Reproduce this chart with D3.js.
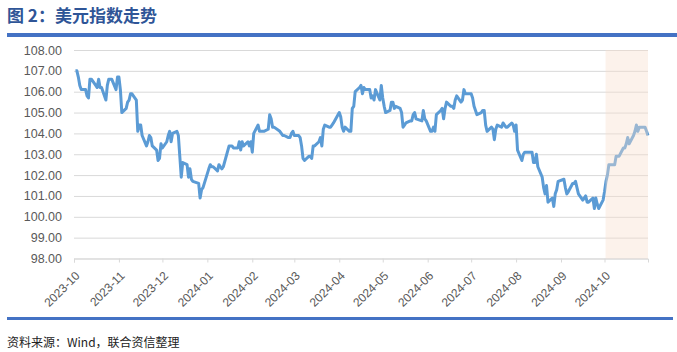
<!DOCTYPE html>
<html>
<head>
<meta charset="utf-8">
<script src="https://cdn.jsdelivr.net/npm/d3@7"></script>
<style>
  body{margin:0;background:#fff;}
  .grid line{stroke:#d9d9d9;stroke-width:1;}
  .grid path{display:none;}
  .axis text{fill:#595959;font-family:"Liberation Sans",Arial,sans-serif;}
</style>
</head>
<body>
<div id="chart"></div>
<script>
// 美元指数 daily close, 2023-10 ~ 2024-10
var dates=[
"2023-10-02","2023-10-03","2023-10-04","2023-10-05","2023-10-06","2023-10-09","2023-10-10","2023-10-11","2023-10-12","2023-10-13",
"2023-10-16","2023-10-17","2023-10-18","2023-10-19","2023-10-20","2023-10-23","2023-10-24","2023-10-25","2023-10-26","2023-10-27",
"2023-10-30","2023-10-31","2023-11-01","2023-11-02","2023-11-03","2023-11-06","2023-11-07","2023-11-08","2023-11-09","2023-11-10",
"2023-11-13","2023-11-14","2023-11-15","2023-11-16","2023-11-17","2023-11-20","2023-11-21","2023-11-22","2023-11-23","2023-11-24",
"2023-11-27","2023-11-28","2023-11-29","2023-11-30","2023-12-01","2023-12-04","2023-12-05","2023-12-06","2023-12-07","2023-12-08",
"2023-12-11","2023-12-12","2023-12-13","2023-12-14","2023-12-15","2023-12-18","2023-12-19","2023-12-20","2023-12-21","2023-12-22",
"2023-12-26","2023-12-27","2023-12-28","2023-12-29","2024-01-02","2024-01-03","2024-01-04","2024-01-05","2024-01-08","2024-01-09",
"2024-01-10","2024-01-11","2024-01-12","2024-01-16","2024-01-17","2024-01-18","2024-01-19","2024-01-22","2024-01-23","2024-01-24",
"2024-01-25","2024-01-26","2024-01-29","2024-01-30","2024-01-31","2024-02-01","2024-02-02","2024-02-05","2024-02-06","2024-02-07",
"2024-02-08","2024-02-09","2024-02-12","2024-02-13","2024-02-14","2024-02-15","2024-02-16","2024-02-20","2024-02-21","2024-02-22",
"2024-02-23","2024-02-26","2024-02-27","2024-02-28","2024-02-29","2024-03-01","2024-03-04","2024-03-05","2024-03-06","2024-03-07",
"2024-03-08","2024-03-11","2024-03-12","2024-03-13","2024-03-14","2024-03-15","2024-03-18","2024-03-19","2024-03-20","2024-03-21",
"2024-03-22","2024-03-25","2024-03-26","2024-03-27","2024-03-28","2024-04-01","2024-04-02","2024-04-03","2024-04-04","2024-04-05",
"2024-04-08","2024-04-09","2024-04-10","2024-04-11","2024-04-12","2024-04-15","2024-04-16","2024-04-17","2024-04-18","2024-04-19",
"2024-04-22","2024-04-23","2024-04-24","2024-04-25","2024-04-26","2024-04-29","2024-04-30","2024-05-01","2024-05-02","2024-05-03",
"2024-05-06","2024-05-07","2024-05-08","2024-05-09","2024-05-10","2024-05-13","2024-05-14","2024-05-15","2024-05-16","2024-05-17",
"2024-05-20","2024-05-21","2024-05-22","2024-05-23","2024-05-24","2024-05-28","2024-05-29","2024-05-30","2024-05-31","2024-06-03",
"2024-06-04","2024-06-05","2024-06-06","2024-06-07","2024-06-10","2024-06-11","2024-06-12","2024-06-13","2024-06-14","2024-06-17",
"2024-06-18","2024-06-19","2024-06-20","2024-06-21","2024-06-24","2024-06-25","2024-06-26","2024-06-27","2024-06-28","2024-07-01",
"2024-07-02","2024-07-03","2024-07-05","2024-07-08","2024-07-09","2024-07-10","2024-07-11","2024-07-12","2024-07-15","2024-07-16",
"2024-07-17","2024-07-18","2024-07-19","2024-07-22","2024-07-23","2024-07-24","2024-07-25","2024-07-26","2024-07-29","2024-07-30",
"2024-07-31","2024-08-01","2024-08-02","2024-08-05","2024-08-06","2024-08-07","2024-08-08","2024-08-09","2024-08-12","2024-08-13",
"2024-08-14","2024-08-15","2024-08-16","2024-08-19","2024-08-20","2024-08-21","2024-08-22","2024-08-23","2024-08-26","2024-08-27",
"2024-08-28","2024-08-29","2024-08-30","2024-09-03","2024-09-04","2024-09-05","2024-09-06","2024-09-09","2024-09-10","2024-09-11",
"2024-09-12","2024-09-13","2024-09-16","2024-09-17","2024-09-18","2024-09-19","2024-09-20","2024-09-23","2024-09-24","2024-09-25",
"2024-09-26","2024-09-27","2024-09-30","2024-10-01","2024-10-02","2024-10-03","2024-10-04","2024-10-07","2024-10-08","2024-10-09",
"2024-10-10","2024-10-11","2024-10-14","2024-10-15","2024-10-16","2024-10-17","2024-10-18","2024-10-21","2024-10-22","2024-10-23",
"2024-10-24","2024-10-25","2024-10-28","2024-10-29","2024-10-30","2024-10-31"];

var values=[
107.0,107.0,106.7,106.3,106.1,106.1,105.8,105.7,106.6,106.6,
106.3,106.2,106.6,106.2,106.2,105.6,106.3,106.6,106.6,106.6,
106.1,106.7,106.7,106.1,105.0,105.2,105.5,105.6,105.9,105.9,
105.6,104.1,104.4,104.4,103.9,103.4,103.6,103.9,103.8,103.4,
103.2,102.7,102.8,103.5,103.3,103.6,103.9,104.1,103.6,104.0,
104.1,103.9,102.9,101.9,102.6,102.5,101.9,102.3,101.8,101.7,
101.6,100.9,101.3,101.4,102.3,102.5,102.4,102.4,102.2,102.5,
102.4,102.3,102.4,103.4,103.4,103.4,103.3,103.3,103.6,103.2,
103.6,103.4,103.6,103.4,103.6,103.1,104.0,104.4,104.1,104.1,
104.1,104.1,104.2,104.9,104.7,104.3,104.3,104.1,104.0,103.9,
103.9,103.8,103.8,104.0,104.1,103.9,103.9,103.8,103.4,102.8,
102.7,102.9,102.9,102.8,103.4,103.4,103.6,103.8,103.4,104.2,
104.4,104.3,104.3,104.4,104.5,105.0,104.8,104.3,104.1,104.3,
104.1,104.1,105.2,105.3,106.0,106.2,106.3,105.9,106.2,106.1,
106.1,105.7,105.8,105.6,106.1,105.6,106.3,105.7,105.3,105.0,
105.1,105.5,105.5,105.2,105.3,105.2,105.0,104.3,104.4,104.5,
104.6,104.6,104.9,105.0,104.7,104.6,105.1,104.7,104.6,104.1,
104.1,104.3,104.1,104.9,105.1,105.2,104.7,105.2,105.5,105.3,
105.3,105.2,105.6,105.8,105.5,105.6,106.1,105.9,105.9,105.9,
105.7,105.3,104.9,105.0,105.1,105.1,104.4,104.1,104.3,104.2,
103.7,104.2,104.4,104.3,104.5,104.4,104.3,104.3,104.5,104.4,
104.1,104.4,103.2,102.7,103.0,103.1,103.1,103.1,103.1,102.6,
102.6,103.0,102.4,101.9,101.4,101.1,101.5,100.7,100.9,100.5,
101.1,101.3,101.7,101.8,101.4,101.1,101.2,101.6,101.6,101.7,
101.4,101.1,100.8,100.9,101.0,100.7,100.7,100.9,100.4,100.9,
100.6,100.4,100.8,101.2,101.7,102.0,102.5,102.5,102.5,102.9,
102.9,102.9,103.3,103.3,103.5,103.8,103.5,103.9,104.1,104.4,
104.1,104.3,104.3,104.3,104.1,103.9];

var yTicks=[98,99,100,101,102,103,104,105,106,107,108];
var monthTicks=["2023-10","2023-11","2023-12","2024-01","2024-02","2024-03","2024-04",
  "2024-05","2024-06","2024-07","2024-08","2024-09","2024-10"];
var shadeStart="2024-10-01";
var title="图 2：美元指数走势";
var source="资料来源：Wind，联合资信整理";

var width=677,height=352;
var parse=d3.timeParse("%Y-%m-%d");
var parseMonth=d3.timeParse("%Y-%m");

var svg=d3.select("#chart").append("svg")
  .attr("width",width)
  .attr("height",height);

// title + blue bars
svg.append("text")
  .attr("x",7).attr("y",22)
  .attr("font-family","'Noto Sans CJK SC',sans-serif")
  .attr("font-weight","bold")
  .attr("font-size",17)
  .attr("fill","#2f5597")
  .text(title);
svg.append("rect").attr("x",7).attr("y",33).attr("width",width-7).attr("height",4).attr("fill","#4472c4");
svg.append("rect").attr("x",7).attr("y",317).attr("width",666).attr("height",3).attr("fill","#4472c4");
svg.append("text")
  .attr("x",7).attr("y",347)
  .attr("font-family","'Noto Sans CJK SC',sans-serif")
  .attr("font-size",12)
  .attr("fill","#222")
  .text(source);

var data=dates.map(function(d,i){return {date:parse(d),value:values[i]};});

var xScale=d3.scaleTime()
  .domain([parse("2023-10-01"),parse("2024-10-31")])
  .range([74,648]);
var yScale=d3.scaleLinear()
  .domain([98,108])
  .range([258.5,50]);

// grid
svg.append("g")
  .attr("class","grid")
  .attr("transform","translate(74,0)")
  .call(d3.axisLeft(yScale).tickValues(yTicks).tickSize(-(648-74)).tickFormat(""));

// y labels
var yAxis=svg.append("g")
  .attr("class","axis")
  .attr("transform","translate(62,0)")
  .call(d3.axisLeft(yScale).tickValues(yTicks).tickSize(0).tickPadding(0)
    .tickFormat(d3.format(".2f")));
yAxis.select(".domain").remove();
yAxis.selectAll("text").attr("font-size",12.5);

// x axis
var xAxis=svg.append("g")
  .attr("class","axis")
  .attr("transform","translate(0,"+yScale(98)+")")
  .call(d3.axisBottom(xScale)
    .tickValues(monthTicks.map(parseMonth))
    .tickSize(4)
    .tickFormat(d3.timeFormat("%Y-%m")));
xAxis.select(".domain").attr("stroke","#d9d9d9");
xAxis.selectAll("line").attr("stroke","#d9d9d9");
xAxis.selectAll("text")
  .attr("font-size",12)
  .attr("fill","#666")
  .attr("text-anchor","end")
  .attr("y",0).attr("dy","0.35em")
  .attr("transform","translate(3,15) rotate(-45)");

// line
var line=d3.line()
  .x(function(d){return xScale(d.date);})
  .y(function(d){return yScale(d.value);});
svg.append("path")
  .datum(data)
  .attr("fill","none")
  .attr("stroke","#5b9bd5")
  .attr("stroke-width",3)
  .attr("stroke-linejoin","round")
  .attr("d",line);

// shaded latest month (drawn over the line)
svg.append("rect")
  .attr("x",xScale(parse(shadeStart))+1)
  .attr("y",yScale(108))
  .attr("width",648-xScale(parse(shadeStart))-1)
  .attr("height",yScale(98)-yScale(108))
  .attr("fill","rgb(248,222,205)")
  .attr("fill-opacity",0.4);
</script>
</body>
</html>
